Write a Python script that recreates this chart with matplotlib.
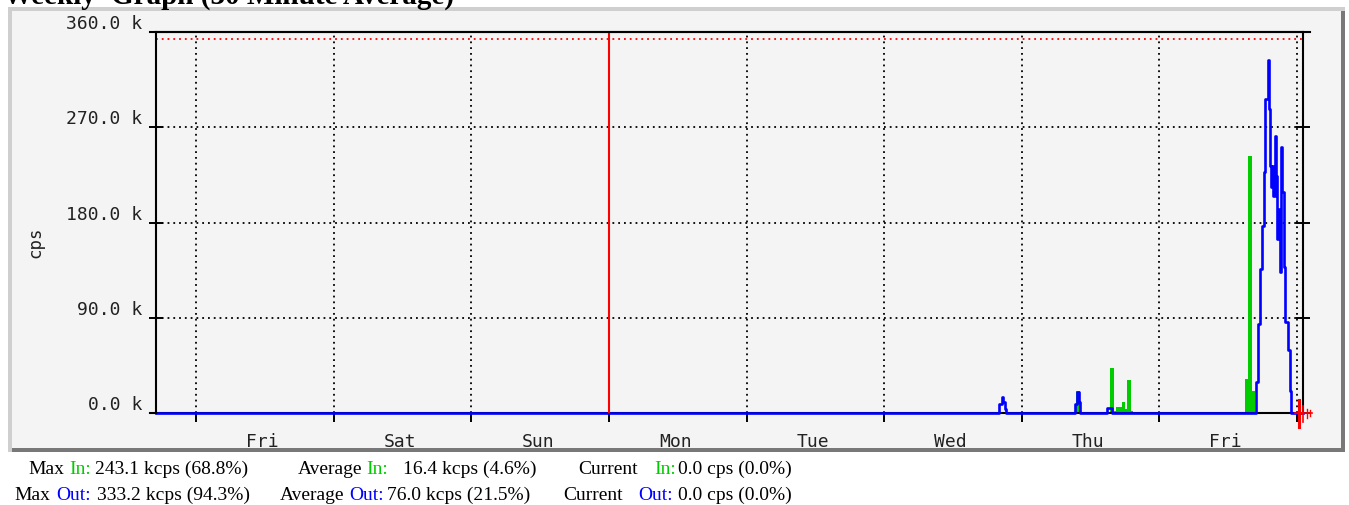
import matplotlib.pyplot as plt
from matplotlib.patches import Rectangle
from matplotlib.lines import Line2D
from matplotlib.transforms import ScaledTranslation

W, H = 1349, 506

# data: 30 min samples, shown as step changes (hours from left edge, kcps)
in_hours = [0, 160.5, 161.1, 166.4, 167.1, 167.5, 168.4, 169.0, 169.4, 170.1, 170.4,
            189.9, 190.5, 191.1, 191.6, 200]
in_kcps = [0, 21.0, 0, 42.2, 2.0, 5.4, 10.0, 4.0, 31.5, 2.0, 0,
           32.0, 243.1, 21.0, 0, 0]

out_hours = [0, 147.1, 147.5, 147.8, 148.0, 148.3, 160.2, 160.6, 161.0, 161.2,
             165.9, 166.7, 191.9, 192.2, 192.5, 192.9, 193.3, 193.5, 193.9, 194.1,
             194.3, 194.5, 194.7, 194.9, 195.2, 195.4, 195.6, 195.8, 196.0, 196.2,
             196.4, 196.7, 197.0, 197.4, 197.7, 198.0, 200]
out_kcps = [0, 8.5, 14.8, 10.4, 4.0, 0, 8.5, 19.6, 10.4, 0,
            4.7, 0, 29, 84, 136, 177, 228, 297, 333.2, 287,
            233, 214, 233, 205, 262, 224, 164, 193, 133, 251,
            209, 138, 86, 60, 21, 0, 0]

max_kcps = 353.3
day_names = ['Fri', 'Sat', 'Sun', 'Mon', 'Tue', 'Wed', 'Thu', 'Fri']
first_midnight = 7.0
week_start = 79.0
y_ticks = [0, 90, 180, 270, 360]
y_labels = ['0.0 k', '90.0 k', '180.0 k', '270.0 k', '360.0 k']

GREEN = '#00cc00'
BLUE = '#0000ff'
RED = '#ff0000'


def fx(x):
    return x / W


def fy(y):
    return 1 - y / H


fig = plt.figure(figsize=(W / 100, H / 100), dpi=100)
fig.patch.set_facecolor('white')

# panel with 3d-ish border
for x0, y0, x1, y1, c in [(8, 8, 1345, 453, '#cfcfcf'), (12, 12, 1345, 453, '#787878'),
                          (12, 12, 1341, 449, '#f4f4f4')]:
    fig.add_artist(Rectangle((fx(x0), fy(y1)), fx(x1) - fx(x0), fy(y0) - fy(y1),
                             transform=fig.transFigure, facecolor=c, edgecolor='none', zorder=-5))

# title (cut off at top like the reference)
fig.text(fx(-6), fy(4), "`Weekly' Graph (30 Minute Average)", ha='left', va='baseline',
         fontfamily='Liberation Serif', fontweight='bold', fontsize=21, color='black')

ax = fig.add_axes([fx(156), fy(414), fx(1302.7) - fx(156), fy(33) - fy(414)])
ax.set_zorder(5)
ax.set_facecolor('none')
ax.set_xlim(0, 200)
ax.set_ylim(0, 360)

ax.fill_between(in_hours, in_kcps, step='post', color=GREEN, linewidth=0, zorder=2)
ax.step(out_hours, out_kcps, where='post', color=BLUE, linewidth=1.9, zorder=3, clip_on=False)

midnights = [first_midnight + 24 * k for k in range(9)]
noons = [first_midnight + 12 + 24 * k for k in range(8)]

ax.set_xticks(midnights)
ax.set_xticklabels([])
ax.set_xticks(noons, minor=True)
ax.set_xticklabels(day_names, minor=True)
ax.set_yticks(y_ticks)
ax.set_yticklabels(y_labels)

ax.grid(True, which='major', color='black', linestyle=(0, (1, 2.2)), linewidth=1.3, zorder=1)
ax.axhline(max_kcps, color=RED, linestyle=(0, (1, 2.2)), linewidth=1.3, zorder=2)
ax.axvline(week_start, color=RED, linewidth=1.5, zorder=4)

ax.tick_params(axis='y', which='major', direction='inout', length=10, width=1.4,
               left=True, right=True, pad=5, labelsize=13, labelcolor='#222222')
ax.tick_params(axis='x', which='major', direction='out', length=6.5, width=1.4)
ax.tick_params(axis='x', which='minor', length=0, pad=13.5, labelsize=13, labelcolor='#222222')
for lab in ax.get_yticklabels() + ax.get_xticklabels(minor=True):
    lab.set_fontfamily('DejaVu Sans Mono')
for lab in ax.get_yticklabels():
    lab.set_transform(lab.get_transform() + ScaledTranslation(0, 0.11, fig.dpi_scale_trans))
for lab in ax.get_xticklabels(minor=True):
    lab.set_transform(lab.get_transform() + ScaledTranslation(-0.025, 0, fig.dpi_scale_trans))

for s in ax.spines.values():
    s.set_linewidth(1.5)
    s.set_color('black')

# top line sticks out a bit on both sides, like the axis lines
fig.add_artist(Line2D([fx(150), fx(1310)], [fy(33), fy(33)], color='black', linewidth=1.5, zorder=6))
fig.add_artist(Line2D([fx(150), fx(156)], [fy(414), fy(414)], color='black', linewidth=1.5, zorder=6))

# red "now" arrow at the right end of the time axis
for x0, y0, y1, lw in [(1298.5, 401, 428, 2.2), (1302.5, 407, 423, 1.2), (1306.5, 410, 419, 1.0),
                       (1309.5, 411, 417, 1.0)]:
    fig.add_artist(Line2D([fx(x0), fx(x0)], [fy(y0), fy(y1)], color=RED, linewidth=lw, zorder=7))
fig.add_artist(Line2D([fx(1295), fx(1312)], [fy(414), fy(414)], color=RED, linewidth=1.2, zorder=7))

ax.text(-0.105, 0.45, 'cps', transform=ax.transAxes, rotation=90, ha='center', va='center',
        fontfamily='DejaVu Sans Mono', fontsize=12.5, color='#222222')

# legend rows under the chart
rows = [
    (474, [('Max', 28, 'black'), ('In:', 69, GREEN), ('243.1 kcps (68.8%)', 95, 'black'),
           ('Average', 298, 'black'), ('In:', 366, GREEN), ('16.4 kcps (4.6%)', 403, 'black'),
           ('Current', 578, 'black'), ('In:', 654, GREEN), ('0.0 cps (0.0%)', 678, 'black')]),
    (500, [('Max', 14, 'black'), ('Out:', 56, BLUE), ('333.2 kcps (94.3%)', 97, 'black'),
           ('Average', 280, 'black'), ('Out:', 349, BLUE), ('76.0 kcps (21.5%)', 387, 'black'),
           ('Current', 563, 'black'), ('Out:', 638, BLUE), ('0.0 cps (0.0%)', 678, 'black')]),
]
for ybase, parts in rows:
    for txt, x, col in parts:
        fig.text(fx(x), fy(ybase), txt, ha='left', va='baseline', color=col,
                 fontfamily='Liberation Serif', fontsize=14)

fig.savefig('out.png', dpi=100)
